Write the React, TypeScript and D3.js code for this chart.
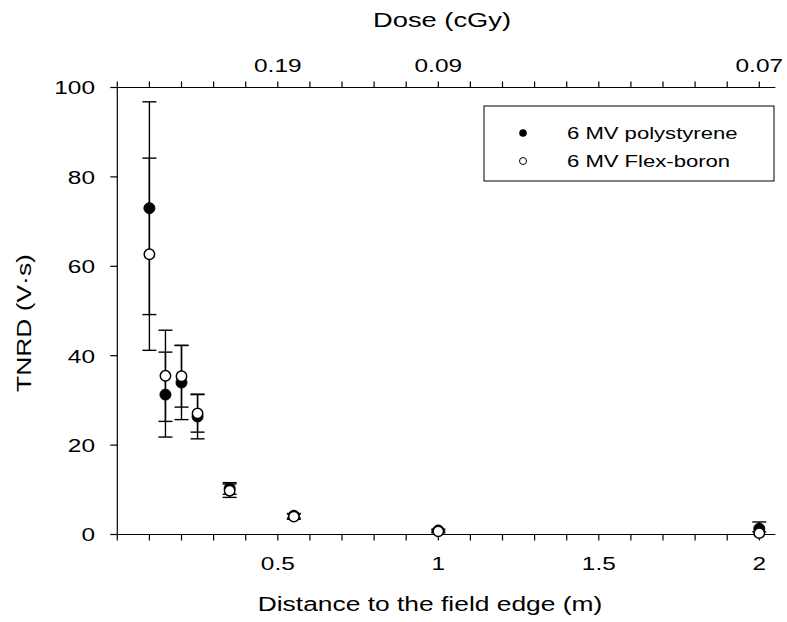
import React from "react";
import * as d3 from "d3";

const distances = [0.1, 0.15, 0.2, 0.25, 0.35, 0.55, 1.0, 2.0];
const polyValues = [73.0, 31.3, 34.0, 26.4, 10.3, 4.2, 0.9, 1.3];
const polyErrors = [23.8, 9.5, 8.3, 5.0, 1.3, 0.5, 0.3, 1.5];
const flexValues = [62.7, 35.5, 35.4, 27.1, 9.8, 4.0, 0.7, 0.3];
const flexErrors = [21.5, 10.2, 6.9, 4.2, 1.5, 0.6, 0.3, 0.3];
const yTicks = [0, 20, 40, 60, 80, 100];
const xTickMarks = d3.range(0, 21).map((i) => i / 10);
const xLabelTicks = [0.5, 1, 1.5, 2];
const xLabels = ["0.5", "1", "1.5", "2"];
const doseTicks = [0.5, 1, 2];
const doseLabels = ["0.19", "0.09", "0.07"];
const seriesNames = ["6 MV polystyrene", "6 MV Flex-boron"];

const W = 787;
const H = 622;
const FONT = "Arial, 'Liberation Sans', sans-serif";

function T({ x, y, size, anchor = "middle", children, rotate = 0, sx = 1.32 }: any) {
  return (
    <text
      transform={`translate(${x},${y}) rotate(${rotate}) scale(${sx},1)`}
      fontSize={size}
      fontFamily={FONT}
      textAnchor={anchor}
      fill="#000"
    >
      {children}
    </text>
  );
}

export default function App() {
  const x = d3.scaleLinear().domain([0, 2.05]).range([117.3, 117.3 + 2.05 * 321]);
  const y = d3.scaleLinear().domain([0, 100]).range([534.5, 87.5]);
  const x0 = x(0);
  const x1 = x(2.05);
  const yTop = y(100);
  const yBot = y(0);
  const cap = 7;

  const errBars = (vals: number[], errs: number[], key: string) =>
    distances.map((d, i) => {
      const cx = x(d);
      const hi = y(vals[i] + errs[i]);
      const lo = y(Math.max(vals[i] - errs[i], 0));
      return (
        <g key={key + i} stroke="#000" strokeWidth={1.4}>
          <line x1={cx} x2={cx} y1={hi} y2={lo} />
          <line x1={cx - cap} x2={cx + cap} y1={hi} y2={hi} />
          {vals[i] - errs[i] > 0 && <line x1={cx - cap} x2={cx + cap} y1={lo} y2={lo} />}
        </g>
      );
    });

  return (
    <svg width={W} height={H} style={{ display: "block", position: "absolute", left: 0, top: 0 }}>
      <rect width={W} height={H} fill="#fff" />
      <g stroke="#000" strokeWidth={1.2}>
        <line x1={x0} x2={x0} y1={yTop} y2={yBot} />
        <line x1={x0} x2={x1} y1={yBot} y2={yBot} />
        <line x1={x0} x2={x1} y1={yTop} y2={yTop} />
        {yTicks.map((t) => (
          <line key={"yt" + t} x1={x0 - 7} x2={x0} y1={y(t)} y2={y(t)} />
        ))}
        {xTickMarks.map((t) => (
          <line key={"xt" + t} x1={x(t)} x2={x(t)} y1={yBot} y2={yBot + 6} />
        ))}
        {xTickMarks.map((t) => (
          <line key={"tt" + t} x1={x(t)} x2={x(t)} y1={yTop} y2={yTop - 6} />
        ))}
      </g>
      {yTicks.map((t) => (
        <T key={"yl" + t} x={95} y={y(t) + 6.8} size={18.5} anchor="end">
          {t}
        </T>
      ))}
      {xLabelTicks.map((t, i) => (
        <T key={"xl" + t} x={x(t)} y={569.5} size={18.5}>
          {xLabels[i]}
        </T>
      ))}
      {doseTicks.map((t, i) => (
        <T key={"dl" + t} x={x(t)} y={71.5} size={18.5}>
          {doseLabels[i]}
        </T>
      ))}
      <T x={442} y={27} size={21} sx={1.3}>Dose (cGy)</T>
      <T x={430} y={611} size={20}>Distance to the field edge (m)</T>
      <T x={31} y={323} size={20} rotate={-90}>TNRD (V·s)</T>

      {errBars(polyValues, polyErrors, "pe")}
      {errBars(flexValues, flexErrors, "fe")}
      {distances.map((d, i) => (
        <circle key={"pc" + i} cx={x(d)} cy={y(polyValues[i])} r={5.5} fill="#000" stroke="#000" strokeWidth={1} />
      ))}
      {distances.map((d, i) => (
        <circle key={"fc" + i} cx={x(d)} cy={y(flexValues[i])} r={5.2} fill="#fff" stroke="#000" strokeWidth={1.5} />
      ))}

      <rect x={484} y={106} width={290} height={75} fill="#fff" stroke="#000" strokeWidth={1} />
      <circle cx={523} cy={133} r={3.8} fill="#000" />
      <circle cx={523} cy={161} r={3.5} fill="#fff" stroke="#000" strokeWidth={1} />
      <T x={567} y={138.5} size={16} anchor="start" sx={1.38}>{seriesNames[0]}</T>
      <T x={567} y={166.5} size={16} anchor="start" sx={1.38}>{seriesNames[1]}</T>
    </svg>
  );
}
